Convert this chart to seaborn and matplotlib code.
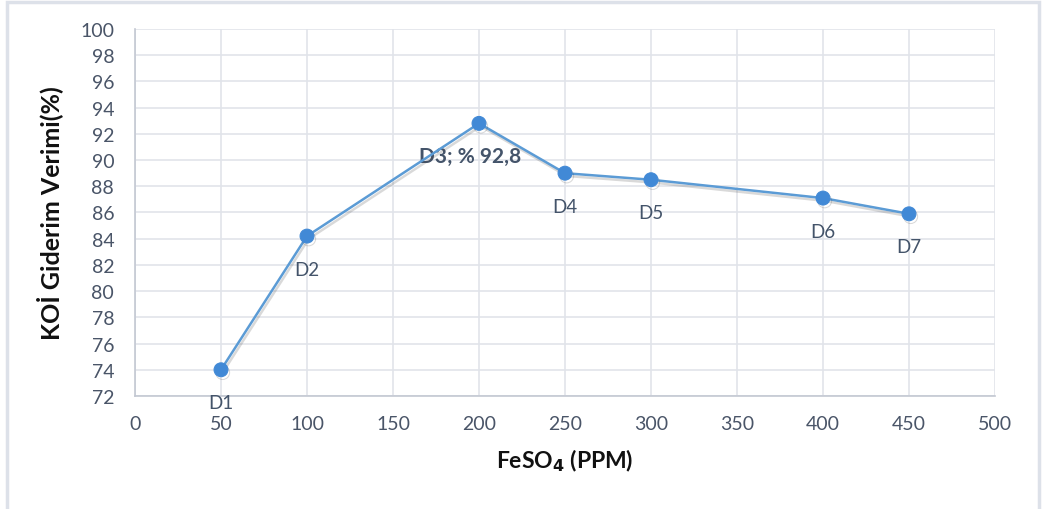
import matplotlib
matplotlib.use("Agg")
import matplotlib.pyplot as plt
import matplotlib.patheffects as pe
from matplotlib.patches import Rectangle
import seaborn as sns
import pandas as pd

# FeSO4 dose (ppm) and COD removal efficiency (%)
doses = [50, 100, 200, 250, 300, 400, 450]
efficiency = [74.0, 84.2, 92.8, 89.0, 88.5, 87.1, 85.9]
labels = ["D1", "D2", "D3", "D4", "D5", "D6", "D7"]
x_ticks = [0, 50, 100, 150, 200, 250, 300, 350, 400, 450, 500]
y_ticks = [72, 74, 76, 78, 80, 82, 84, 86, 88, 90, 92, 94, 96, 98, 100]

df = pd.DataFrame({"dose": doses, "eff": efficiency, "label": labels})

sns.set_theme(style="white")
plt.rcParams["font.family"] = ["Lato", "DejaVu Sans"]

tick_color = "#4a5568"
grid_color = "#e1e4ea"
spine_color = "#c3c8d2"
line_color = "#5b9bd5"
marker_color = "#4189d6"

fig = plt.figure(figsize=(10.45, 5.10), dpi=100)
ax = fig.add_axes([135 / 1045, 1 - 397 / 510, 860 / 1045, 367 / 510])

# outer chart frame
fig.patches.append(Rectangle((7 / 1045, -0.05), 1032 / 1045, 1.05 - 3 / 510,
                             transform=fig.transFigure, fill=False,
                             edgecolor="#dde1e9", linewidth=2.5, zorder=0))

sns.lineplot(data=df, x="dose", y="eff", ax=ax, color=line_color, linewidth=1.8,
             marker="o", markersize=10, markerfacecolor=marker_color,
             markeredgecolor=marker_color, zorder=5,
             path_effects=[pe.SimpleLineShadow(offset=(1.2, -2), alpha=0.2, shadow_color="#444444"),
                           pe.Normal()])

ax.set_xlim(0, 500)
ax.set_ylim(72, 100)
ax.set_xticks(x_ticks)
ax.set_yticks(y_ticks)
ax.grid(True, color=grid_color, linewidth=1.2)
ax.set_axisbelow(True)
for side in ["top", "right"]:
    ax.spines[side].set_visible(False)
for side in ["left", "bottom"]:
    ax.spines[side].set_color(spine_color)
    ax.spines[side].set_linewidth(1.2)
ax.tick_params(axis="both", length=0, labelsize=14, colors=tick_color)
ax.tick_params(axis="x", pad=14)
ax.tick_params(axis="y", pad=15)

ax.set_xlabel("FeSO$_\\mathbf{4}$ (PPM)", fontsize=16.5, fontweight="bold",
              color="#111111", labelpad=10)
ax.set_ylabel("KOİ Giderim Verimi(%)", fontsize=18, fontweight="bold",
              color="#111111", labelpad=12)

# point labels under each marker
for x, y, lab in zip(doses, efficiency, labels):
    if lab == "D3":
        ax.annotate(f"{lab}; % {y:.1f}".replace(".", ","), (x, y),
                    xytext=(-9, -33), textcoords="offset pixels",
                    ha="center", va="center", fontsize=15, fontweight="bold",
                    color="#44546a")
    else:
        ax.annotate(lab, (x, y), xytext=(0, -33), textcoords="offset pixels",
                    ha="center", va="center", fontsize=13.5, color="#44546a",
                    annotation_clip=False)

fig.savefig("out.png", dpi=100, facecolor="white")
